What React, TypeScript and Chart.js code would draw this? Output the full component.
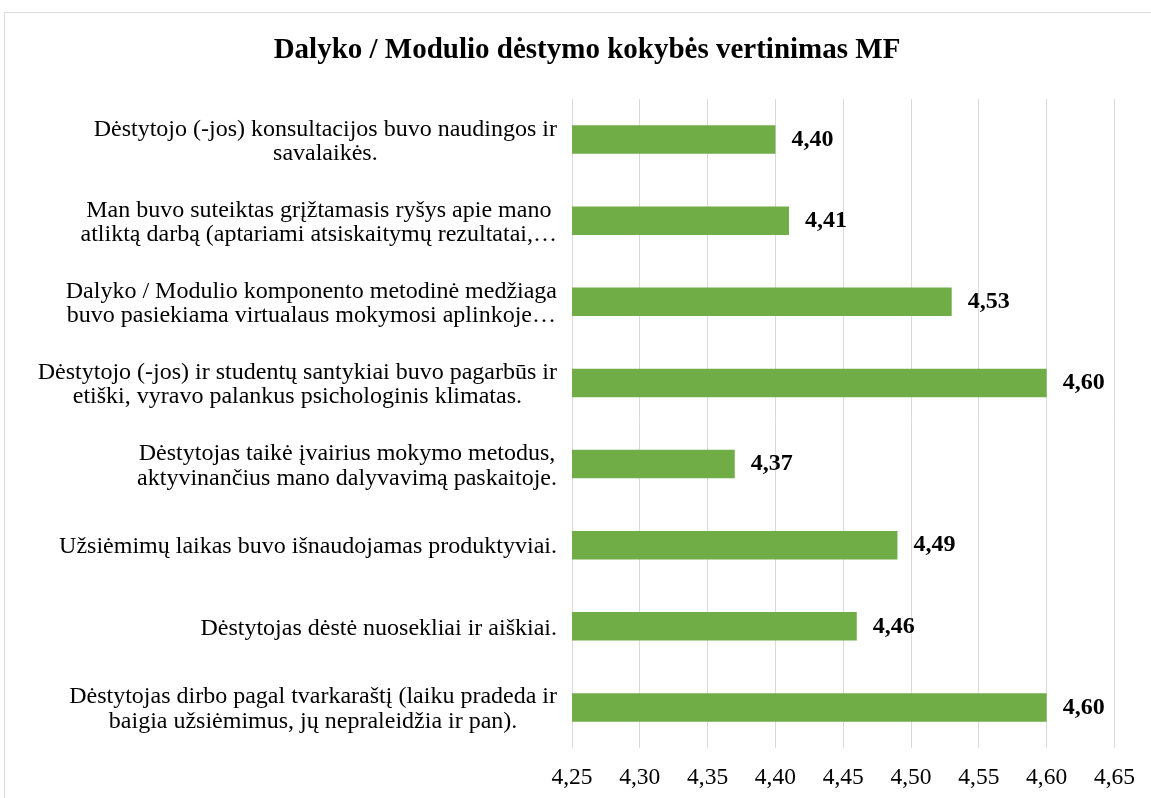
import React, { useEffect, useRef } from "react";
import { Chart, registerables } from "chart.js";

Chart.register(...registerables);

const titleText = "Dalyko / Modulio dėstymo kokybės vertinimas MF";

const categories: string[][] = [
  ["Dėstytojo (-jos) konsultacijos buvo naudingos ir", "savalaikės."],
  ["Man buvo suteiktas grįžtamasis ryšys apie mano", "atliktą darbą (aptariami atsiskaitymų rezultatai,…"],
  ["Dalyko / Modulio komponento metodinė medžiaga", "buvo pasiekiama virtualaus mokymosi aplinkoje…"],
  ["Dėstytojo (-jos) ir studentų santykiai buvo pagarbūs ir", "etiški, vyravo palankus psichologinis klimatas."],
  ["Dėstytojas taikė įvairius mokymo metodus,", "aktyvinančius mano dalyvavimą paskaitoje."],
  ["Užsiėmimų laikas buvo išnaudojamas produktyviai."],
  ["Dėstytojas dėstė nuosekliai ir aiškiai."],
  ["Dėstytojas dirbo pagal tvarkaraštį (laiku pradeda ir", "baigia užsiėmimus, jų nepraleidžia ir pan)."],
];

const values: number[] = [4.4, 4.41, 4.53, 4.6, 4.37, 4.49, 4.46, 4.6];

const xMin = 4.25;
const xMax = 4.65;
const xStep = 0.05;

const FONT = "'Liberation Serif', 'Times New Roman', serif";

const fmt = (v: number) => v.toFixed(2).replace(".", ",");

export default function App() {
  const ref = useRef<HTMLCanvasElement | null>(null);

  useEffect(() => {
    if (!ref.current) return;

    const framePlugin = {
      id: "frame",
      beforeDraw(chart: any) {
        const ctx = chart.ctx;
        ctx.save();
        ctx.strokeStyle = "#d9d9d9";
        ctx.lineWidth = 1;
        ctx.strokeRect(4.5, 12.5, chart.width + 10, chart.height + 10);
        ctx.font = `bold 29px ${FONT}`;
        ctx.fillStyle = "#000";
        ctx.textAlign = "center";
        ctx.textBaseline = "middle";
        ctx.fillText(titleText, 587, 51);
        ctx.restore();
      },
    };

    const yLabelPlugin = {
      id: "yLabels",
      afterDraw(chart: any) {
        const ctx = chart.ctx;
        const yScale = chart.scales.y;
        const right = chart.chartArea.left - 15;
        ctx.save();
        ctx.font = `24px ${FONT}`;
        ctx.fillStyle = "#000";
        ctx.textAlign = "center";
        ctx.textBaseline = "middle";
        const lh = 24.5;
        categories.forEach((lines, i) => {
          const yc = yScale.getPixelForTick(i) + 2;
          const maxW = Math.max(...lines.map((l) => ctx.measureText(l).width));
          const cx = right - maxW / 2;
          const start = yc - ((lines.length - 1) * lh) / 2;
          lines.forEach((l, j) => ctx.fillText(l, cx, start + j * lh));
        });
        ctx.restore();
      },
    };

    const valueLabelPlugin = {
      id: "valueLabels",
      afterDatasetsDraw(chart: any) {
        const ctx = chart.ctx;
        const meta = chart.getDatasetMeta(0);
        ctx.save();
        ctx.font = `bold 24px ${FONT}`;
        ctx.fillStyle = "#000";
        ctx.textAlign = "left";
        ctx.textBaseline = "middle";
        meta.data.forEach((el: any, i: number) => {
          ctx.fillText(fmt(values[i]), el.x + 16, el.y);
        });
        ctx.restore();
      },
    };

    const chart = new Chart(ref.current, {
      type: "bar",
      data: {
        labels: categories.map((c) => c.join(" ")),
        datasets: [
          {
            data: values,
            backgroundColor: "#70AD47",
            borderWidth: 0,
            barPercentage: 0.7,
            categoryPercentage: 0.5,
          },
        ],
      },
      options: {
        indexAxis: "y",
        animation: false,
        responsive: false,
        maintainAspectRatio: false,
        layout: { padding: { left: 0, right: 33, top: 99, bottom: 0 } },
        plugins: {
          legend: { display: false },
          tooltip: { enabled: false },
          title: { display: false },
        },
        scales: {
          x: {
            min: xMin,
            max: xMax,
            border: { display: false },
            grid: { color: "#d9d9d9", lineWidth: 1, drawTicks: false },
            ticks: {
              stepSize: xStep,
              padding: 16,
              color: "#000",
              font: { family: FONT, size: 23.5 },
              callback: (v: any) => fmt(Number(v)),
            },
            afterFit: (scale: any) => {
              scale.height = 50;
            },
          },
          y: {
            border: { display: false },
            grid: { display: false },
            ticks: { display: false },
            afterFit: (scale: any) => {
              scale.width = 572;
            },
          },
        },
      },
      plugins: [framePlugin, yLabelPlugin, valueLabelPlugin],
    });

    return () => chart.destroy();
  }, []);

  return (
    <div style={{ position: "fixed", left: 0, top: 0, width: 1151, height: 798, background: "#fff" }}>
      <canvas ref={ref} width={1151} height={798} style={{ display: "block", width: 1151, height: 798 }} />
    </div>
  );
}
